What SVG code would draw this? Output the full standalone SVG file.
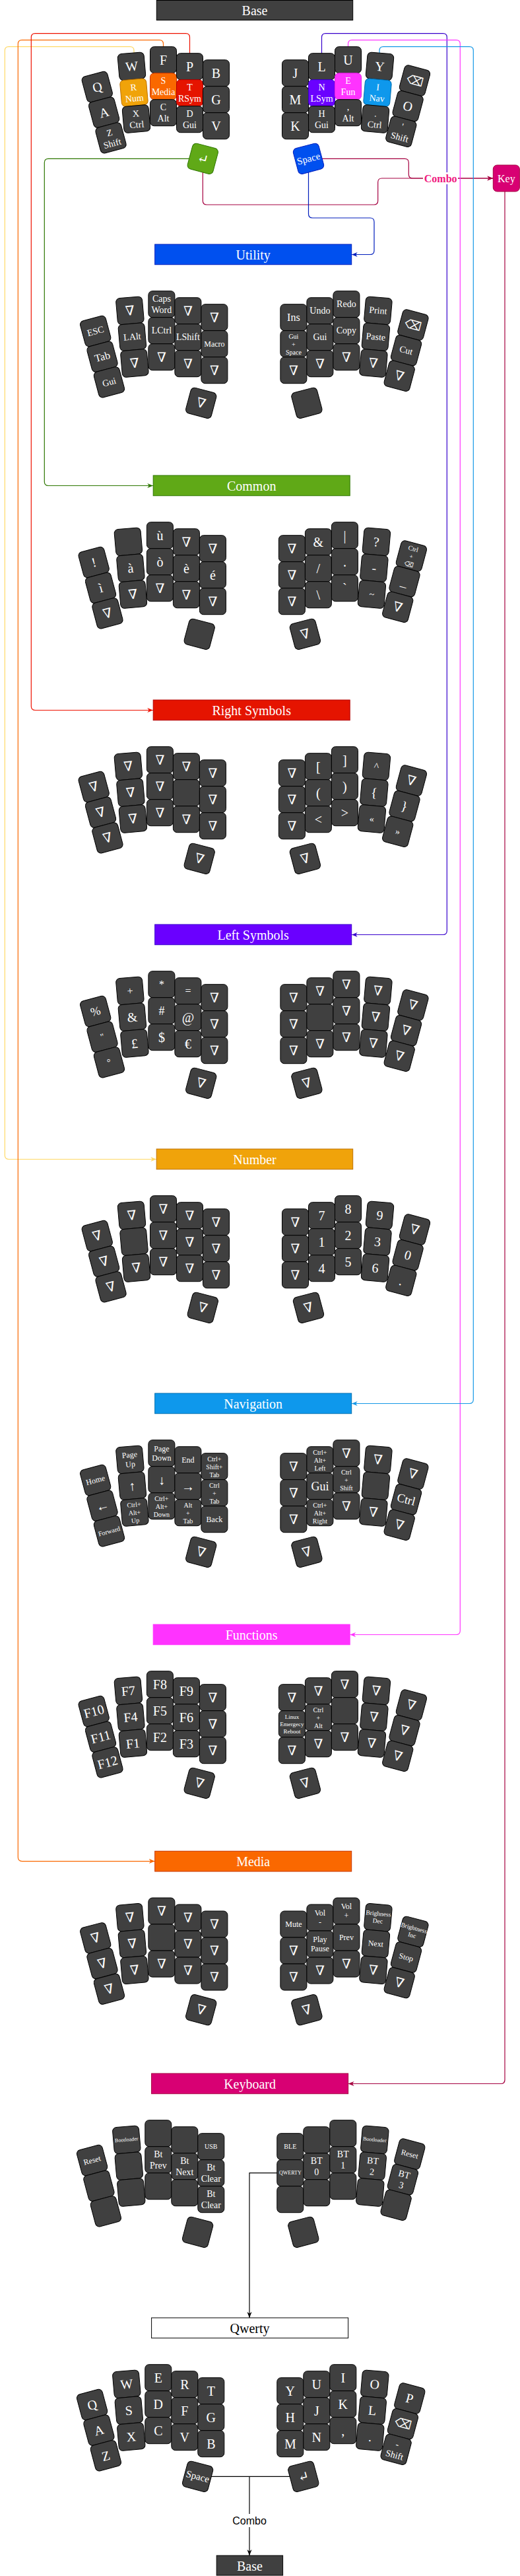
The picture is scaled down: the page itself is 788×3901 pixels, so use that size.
<svg xmlns="http://www.w3.org/2000/svg" xmlns:xlink="http://www.w3.org/1999/xlink" width="788" height="3901" viewBox="0 0 788 3901">
<style>
text{font-family:"Liberation Serif","DejaVu Serif",serif;text-anchor:middle;dominant-baseline:central;fill:#fff}
.a{font-size:20px}.b{font-size:14px}.c{font-size:12px}.d{font-size:10px}.e{font-size:8px}.f{font-size:16px}.g{font-size:18px}.sp{font-size:15px}.x9{font-size:9px}.x95{font-size:9.5px}
.k{fill:#404040;stroke:#000;stroke-width:1}
.ky{fill:#F0A30A;stroke:#BD7000}.ko{fill:#FA6800;stroke:#C73500}.kr{fill:#E51400;stroke:#B20000}
.kv{fill:#6A00FF;stroke:#3700CC}.km{fill:#FF33FF;stroke:#E020E0}.kc{fill:#0E98EC;stroke:#006EAF}
.kg{fill:#60A917;stroke:#2D7600}.kb{fill:#0050EF;stroke:#001DBC}
.bar text{font-size:20px}
#connectors path{fill:none;stroke-width:1.2}
</style>
<defs>
<rect id="kr" x="-20" y="-20" width="40" height="40" rx="6"/>
<marker id="m-y" viewBox="0 0 10 10" refX="10" refY="5" markerWidth="9" markerHeight="9" markerUnits="userSpaceOnUse" orient="auto"><path d="M0,1 L10,5 L0,9 L3,5 z" fill="#FFD966"/></marker>
<marker id="m-o" viewBox="0 0 10 10" refX="10" refY="5" markerWidth="9" markerHeight="9" markerUnits="userSpaceOnUse" orient="auto"><path d="M0,1 L10,5 L0,9 L3,5 z" fill="#FA6800"/></marker>
<marker id="m-r" viewBox="0 0 10 10" refX="10" refY="5" markerWidth="9" markerHeight="9" markerUnits="userSpaceOnUse" orient="auto"><path d="M0,1 L10,5 L0,9 L3,5 z" fill="#EE1100"/></marker>
<marker id="m-g" viewBox="0 0 10 10" refX="10" refY="5" markerWidth="9" markerHeight="9" markerUnits="userSpaceOnUse" orient="auto"><path d="M0,1 L10,5 L0,9 L3,5 z" fill="#2D7600"/></marker>
<marker id="m-k" viewBox="0 0 10 10" refX="10" refY="5" markerWidth="9" markerHeight="9" markerUnits="userSpaceOnUse" orient="auto"><path d="M0,1 L10,5 L0,9 L3,5 z" fill="#A50040"/></marker>
<marker id="m-v" viewBox="0 0 10 10" refX="10" refY="5" markerWidth="9" markerHeight="9" markerUnits="userSpaceOnUse" orient="auto"><path d="M0,1 L10,5 L0,9 L3,5 z" fill="#3700CC"/></marker>
<marker id="m-m" viewBox="0 0 10 10" refX="10" refY="5" markerWidth="9" markerHeight="9" markerUnits="userSpaceOnUse" orient="auto"><path d="M0,1 L10,5 L0,9 L3,5 z" fill="#FF33FF"/></marker>
<marker id="m-c" viewBox="0 0 10 10" refX="10" refY="5" markerWidth="9" markerHeight="9" markerUnits="userSpaceOnUse" orient="auto"><path d="M0,1 L10,5 L0,9 L3,5 z" fill="#1497E6"/></marker>
<marker id="m-b" viewBox="0 0 10 10" refX="10" refY="5" markerWidth="9" markerHeight="9" markerUnits="userSpaceOnUse" orient="auto"><path d="M0,1 L10,5 L0,9 L3,5 z" fill="#001DBC"/></marker>
<marker id="m-n" viewBox="0 0 10 10" refX="10" refY="5" markerWidth="9" markerHeight="9" markerUnits="userSpaceOnUse" orient="auto"><path d="M0,1 L10,5 L0,9 L3,5 z" fill="#000"/></marker>
</defs>
<rect width="788" height="3901" fill="#fff"/>

<g id="connectors">
<path d="M203 140 V76.7 Q203 70.7 197 70.7 H13.3 Q7.3 70.7 7.3 76.7 V1749.5 Q7.3 1755.5 13.3 1755.5 H237.2" stroke="#FFD966" marker-end="url(#m-y)"/>
<path d="M247.5 130.7 V66.7 Q247.5 60.7 241.5 60.7 H33.3 Q27.3 60.7 27.3 66.7 V2812.6 Q27.3 2818.6 33.3 2818.6 H234.7" stroke="#FA6800" marker-end="url(#m-o)"/>
<path d="M287.5 140.7 V56.7 Q287.5 50.7 281.5 50.7 H53.3 Q47.3 50.7 47.3 56.7 V1069.5 Q47.3 1075.5 53.3 1075.5 H232.2" stroke="#EE1100" marker-end="url(#m-r)"/>
<path d="M307.3 240.3 H73.3 Q67.3 240.3 67.3 246.3 V729.5 Q67.3 735.5 73.3 735.5 H232.2" stroke="#2D7600" marker-end="url(#m-g)"/>
<path d="M307.3 240.3 V304 Q307.3 310 313.3 310 H566.7 Q572.7 310 572.7 304 V276 Q572.7 270 578.7 270 H747.3" stroke="#A50040" marker-end="url(#m-k)"/>
<path d="M467.5 240.3 H613.3 Q619.3 240.3 619.3 246.3 V264 Q619.3 270 625.3 270 H747.3" stroke="#A50040" marker-end="url(#m-k)"/>
<path d="M765 290 V3149.5 Q765 3155.5 759 3155.5 H527.6" stroke="#A50040" marker-end="url(#m-k)"/>
<path d="M487.5 140.7 V56.7 Q487.5 50.7 493.5 50.7 H671.3 Q677.3 50.7 677.3 56.7 V1409.5 Q677.3 1415.5 671.3 1415.5 H532.7" stroke="#3700CC" marker-end="url(#m-v)"/>
<path d="M527.5 130.7 V66.7 Q527.5 60.7 533.5 60.7 H691.3 Q697.3 60.7 697.3 66.7 V2469.5 Q697.3 2475.5 691.3 2475.5 H530.2" stroke="#FF33FF" marker-end="url(#m-m)"/>
<path d="M575 140 V76.7 Q575 70.7 581 70.7 H711.3 Q717.3 70.7 717.3 76.7 V2119.5 Q717.3 2125.5 711.3 2125.5 H532.7" stroke="#1497E6" marker-end="url(#m-c)"/>
<path d="M467.5 240.3 V324 Q467.5 330 473.5 330 H561 Q567 330 567 336 V379.5 Q567 385.5 561 385.5 H532.7" stroke="#001DBC" marker-end="url(#m-b)"/>
<path d="M439.8 3290.7 H378 V3510" stroke="#000" marker-end="url(#m-n)"/>
<path d="M299.6 3750.3 H459.8" stroke="#000"/>
<path d="M378 3750.3 V3870" stroke="#000" marker-end="url(#m-n)"/>
<rect x="641" y="261" width="53" height="18" fill="#fff"/>
<text x="667.7" y="270" style="font-size:16px;font-weight:bold;fill:#F0197F">Combo</text>
<rect x="352" y="3807" width="52" height="20" fill="#fff"/>
<text x="378" y="3817.3" style="font-family:'Liberation Sans',Arial,sans-serif;font-size:16px;fill:#000">Combo</text>
</g>

<g id="key"><rect x="747.3" y="250" width="40" height="40" rx="6" fill="#D80073" stroke="#A50040"/><text x="767.3" y="270" class="f">Key</text></g>

<g class="bar">
<g id="bar-base"><rect x="237.3" y="0.5" width="297.4" height="30" fill="#404040" stroke="#000"/><text x="386" y="15.5">Base</text></g>
<g id="bar-utility"><rect x="234.7" y="370" width="298" height="30.7" fill="#0050EF" stroke="#001DBC"/><text x="383.7" y="385.5">Utility</text></g>
<g id="bar-common"><rect x="232.2" y="720" width="298" height="30.7" fill="#60A917" stroke="#2D7600"/><text x="381.2" y="735.5">Common</text></g>
<g id="bar-rsym"><rect x="232.2" y="1060" width="298" height="30.7" fill="#E51400" stroke="#B20000"/><text x="381.2" y="1075.5">Right Symbols</text></g>
<g id="bar-lsym"><rect x="234.7" y="1400" width="298" height="30.7" fill="#6A00FF" stroke="#3700CC"/><text x="383.7" y="1415.5">Left Symbols</text></g>
<g id="bar-number"><rect x="237.2" y="1740" width="297.5" height="30.7" fill="#F0A30A" stroke="#BD7000"/><text x="386" y="1755.5">Number</text></g>
<g id="bar-navigation"><rect x="234.7" y="2110" width="298" height="30.7" fill="#0E98EC" stroke="#006EAF"/><text x="383.7" y="2125.5">Navigation</text></g>
<g id="bar-functions"><rect x="232.2" y="2460" width="298" height="30.7" fill="#FF33FF" stroke="#FF33FF"/><text x="381.2" y="2475.5">Functions</text></g>
<g id="bar-media"><rect x="234.7" y="2803.3" width="298" height="30.7" fill="#FA6800" stroke="#C73500"/><text x="383.7" y="2818.6">Media</text></g>
<g id="bar-keyboard"><rect x="229.6" y="3140" width="298" height="30.7" fill="#D80073" stroke="#A50040"/><text x="378.6" y="3155.5">Keyboard</text></g>
<g id="bar-qwerty"><rect x="229.6" y="3510" width="298" height="30.7" fill="#fff" stroke="#000"/><text x="378.6" y="3525.5" style="fill:#000">Qwerty</text></g>
<g id="bar-base2"><rect x="328.2" y="3870" width="100.4" height="30" fill="#404040" stroke="#000"/><text x="378.4" y="3885.5">Base</text></g>
</g>

<g id="layer-base">
<g id="b-q" transform="translate(147.3 131.5) rotate(-15)"><use href="#kr" class="k"/><text class="a">Q</text></g>
<g id="b-a" transform="translate(157.6 170.1) rotate(-15)"><use href="#kr" class="k"/><text class="a">A</text></g>
<g id="b-z" transform="translate(168 208.8) rotate(-15)"><use href="#kr" class="k"/><text class="b"><tspan x="0" y="-8.4">Z</tspan><tspan x="0" y="8.4">Shift</tspan></text></g>
<g id="b-w" transform="translate(199.5 100.3) rotate(-5)"><use href="#kr" class="k"/><text class="a">W</text></g>
<g id="b-r" transform="translate(203 140.1) rotate(-5)"><use href="#kr" class="ky"/><text class="b"><tspan x="0" y="-8.4">R</tspan><tspan x="0" y="8.4">Num</tspan></text></g>
<g id="b-x" transform="translate(206.5 180) rotate(-5)"><use href="#kr" class="k"/><text class="b"><tspan x="0" y="-8.4">X</tspan><tspan x="0" y="8.4">Ctrl</tspan></text></g>
<g id="b-f" transform="translate(247.5 90.7)"><use href="#kr" class="k"/><text class="a">F</text></g>
<g id="b-s" transform="translate(247.5 130.7)"><use href="#kr" class="ko"/><text class="b"><tspan x="0" y="-8.4">S</tspan><tspan x="0" y="8.4">Media</tspan></text></g>
<g id="b-c" transform="translate(247.5 170.7)"><use href="#kr" class="k"/><text class="b"><tspan x="0" y="-8.4">C</tspan><tspan x="0" y="8.4">Alt</tspan></text></g>
<g id="b-p" transform="translate(287.5 100.7)"><use href="#kr" class="k"/><text class="a">P</text></g>
<g id="b-t" transform="translate(287.5 140.7)"><use href="#kr" class="kr"/><text class="b"><tspan x="0" y="-8.4">T</tspan><tspan x="0" y="8.4">RSym</tspan></text></g>
<g id="b-d" transform="translate(287.5 180.7)"><use href="#kr" class="k"/><text class="b"><tspan x="0" y="-8.4">D</tspan><tspan x="0" y="8.4">Gui</tspan></text></g>
<g id="b-b" transform="translate(327.5 110.7)"><use href="#kr" class="k"/><text class="a">B</text></g>
<g id="b-g" transform="translate(327.5 150.7)"><use href="#kr" class="k"/><text class="a">G</text></g>
<g id="b-v" transform="translate(327.5 190.7)"><use href="#kr" class="k"/><text class="a">V</text></g>
<g id="b-enter" transform="translate(307.3 240.3) rotate(15)"><use href="#kr" class="kg"/><text class="a">↵</text></g>
<g id="b-j" transform="translate(447.5 110.7)"><use href="#kr" class="k"/><text class="a">J</text></g>
<g id="b-m" transform="translate(447.5 150.7)"><use href="#kr" class="k"/><text class="a">M</text></g>
<g id="b-k" transform="translate(447.5 190.7)"><use href="#kr" class="k"/><text class="a">K</text></g>
<g id="b-l" transform="translate(487.5 100.7)"><use href="#kr" class="k"/><text class="a">L</text></g>
<g id="b-n" transform="translate(487.5 140.7)"><use href="#kr" class="kv"/><text class="b"><tspan x="0" y="-8.4">N</tspan><tspan x="0" y="8.4">LSym</tspan></text></g>
<g id="b-h" transform="translate(487.5 180.7)"><use href="#kr" class="k"/><text class="b"><tspan x="0" y="-8.4">H</tspan><tspan x="0" y="8.4">Gui</tspan></text></g>
<g id="b-u" transform="translate(527.5 90.7)"><use href="#kr" class="k"/><text class="a">U</text></g>
<g id="b-e" transform="translate(527.5 130.7)"><use href="#kr" class="km"/><text class="b"><tspan x="0" y="-8.4">E</tspan><tspan x="0" y="8.4">Fun</tspan></text></g>
<g id="b-comma" transform="translate(527.5 170.7)"><use href="#kr" class="k"/><text class="b"><tspan x="0" y="-8.4">,</tspan><tspan x="0" y="8.4">Alt</tspan></text></g>
<g id="b-y" transform="translate(575.5 100.3) rotate(5)"><use href="#kr" class="k"/><text class="a">Y</text></g>
<g id="b-i" transform="translate(572 140.1) rotate(5)"><use href="#kr" class="kc"/><text class="b"><tspan x="0" y="-8.4">I</tspan><tspan x="0" y="8.4">Nav</tspan></text></g>
<g id="b-dot" transform="translate(568.5 180) rotate(5)"><use href="#kr" class="k"/><text class="b"><tspan x="0" y="-8.4">.</tspan><tspan x="0" y="8.4">Ctrl</tspan></text></g>
<g id="b-bs" transform="translate(628.5 122) rotate(15)"><use href="#kr" class="k"/><text class="g">⌫</text></g>
<g id="b-o" transform="translate(618.1 160.6) rotate(15)"><use href="#kr" class="k"/><text class="a">O</text></g>
<g id="b-quote" transform="translate(607.8 199.3) rotate(15)"><use href="#kr" class="k"/><text class="b"><tspan x="0" y="-8.4">'</tspan><tspan x="0" y="8.4">Shift</tspan></text></g>
<g id="b-space" transform="translate(467.5 240.3) rotate(-15)"><use href="#kr" class="kb"/><text class="sp">Space</text></g>
</g>

<g id="layer-utility" transform="translate(-2.6 370)">
<g id="u-esc" transform="translate(147.3 131.5) rotate(-15)"><use href="#kr" class="k"/><text class="b">ESC</text></g>
<g id="u-tab" transform="translate(157.6 170.1) rotate(-15)"><use href="#kr" class="k"/><text class="f">Tab</text></g>
<g id="u-gui" transform="translate(168 208.8) rotate(-15)"><use href="#kr" class="k"/><text class="b">Gui</text></g>
<g id="u-lr0" transform="translate(199.5 100.3) rotate(-5)"><use href="#kr" class="k"/><text class="a">∇</text></g>
<g id="u-lalt" transform="translate(203 140.1) rotate(-5)"><use href="#kr" class="k"/><text class="b">LAlt</text></g>
<g id="u-lr2" transform="translate(206.5 180) rotate(-5)"><use href="#kr" class="k"/><text class="a">∇</text></g>
<g id="u-caps" transform="translate(247.5 90.7)"><use href="#kr" class="k"/><text class="b"><tspan x="0" y="-8.4">Caps</tspan><tspan x="0" y="8.4">Word</tspan></text></g>
<g id="u-lctrl" transform="translate(247.5 130.7)"><use href="#kr" class="k"/><text class="b">LCtrl</text></g>
<g id="u-lm2" transform="translate(247.5 170.7)"><use href="#kr" class="k"/><text class="a">∇</text></g>
<g id="u-li0" transform="translate(287.5 100.7)"><use href="#kr" class="k"/><text class="a">∇</text></g>
<g id="u-lshift" transform="translate(287.5 140.7)"><use href="#kr" class="k"/><text class="b">LShift</text></g>
<g id="u-li2" transform="translate(287.5 180.7)"><use href="#kr" class="k"/><text class="a">∇</text></g>
<g id="u-ln0" transform="translate(327.5 110.7)"><use href="#kr" class="k"/><text class="a">∇</text></g>
<g id="u-macro" transform="translate(327.5 150.7)"><use href="#kr" class="k"/><text class="c">Macro</text></g>
<g id="u-ln2" transform="translate(327.5 190.7)"><use href="#kr" class="k"/><text class="a">∇</text></g>
<g id="u-lt" transform="translate(307.3 240.3) rotate(15)"><use href="#kr" class="k"/><text class="a">∇</text></g>
<g id="u-ins" transform="translate(447.5 110.7)"><use href="#kr" class="k"/><text class="f">Ins</text></g>
<g id="u-guispace" transform="translate(447.5 150.7)"><use href="#kr" class="k"/><text class="d"><tspan x="0" y="-12">Gui</tspan><tspan x="0" y="0">+</tspan><tspan x="0" y="12">Space</tspan></text></g>
<g id="u-rn2" transform="translate(447.5 190.7)"><use href="#kr" class="k"/><text class="a">∇</text></g>
<g id="u-undo" transform="translate(487.5 100.7)"><use href="#kr" class="k"/><text class="b">Undo</text></g>
<g id="u-gui2" transform="translate(487.5 140.7)"><use href="#kr" class="k"/><text class="b">Gui</text></g>
<g id="u-ri2" transform="translate(487.5 180.7)"><use href="#kr" class="k"/><text class="a">∇</text></g>
<g id="u-redo" transform="translate(527.5 90.7)"><use href="#kr" class="k"/><text class="b">Redo</text></g>
<g id="u-copy" transform="translate(527.5 130.7)"><use href="#kr" class="k"/><text class="b">Copy</text></g>
<g id="u-rm2" transform="translate(527.5 170.7)"><use href="#kr" class="k"/><text class="a">∇</text></g>
<g id="u-print" transform="translate(575.5 100.3) rotate(5)"><use href="#kr" class="k"/><text class="b">Print</text></g>
<g id="u-paste" transform="translate(572 140.1) rotate(5)"><use href="#kr" class="k"/><text class="b">Paste</text></g>
<g id="u-rr2" transform="translate(568.5 180) rotate(5)"><use href="#kr" class="k"/><text class="a">∇</text></g>
<g id="u-bs" transform="translate(628.5 122) rotate(15)"><use href="#kr" class="k"/><text class="g">⌫</text></g>
<g id="u-cut" transform="translate(618.1 160.6) rotate(15)"><use href="#kr" class="k"/><text class="b">Cut</text></g>
<g id="u-rp2" transform="translate(607.8 199.3) rotate(15)"><use href="#kr" class="k"/><text class="a">∇</text></g>
<g id="u-rt" transform="translate(467.5 240.3) rotate(-15)"><use href="#kr" class="k"/></g>
</g>

<g id="layer-common" transform="translate(-5.1 720)">
<g id="c-excl" transform="translate(147.3 131.5) rotate(-15)"><use href="#kr" class="k"/><text class="a">!</text></g>
<g id="c-igr" transform="translate(157.6 170.1) rotate(-15)"><use href="#kr" class="k"/><text class="a">ì</text></g>
<g id="c-lp2" transform="translate(168 208.8) rotate(-15)"><use href="#kr" class="k"/><text class="a">∇</text></g>
<g id="c-lr0" transform="translate(199.5 100.3) rotate(-5)"><use href="#kr" class="k"/></g>
<g id="c-agr" transform="translate(203 140.1) rotate(-5)"><use href="#kr" class="k"/><text class="a">à</text></g>
<g id="c-lr2" transform="translate(206.5 180) rotate(-5)"><use href="#kr" class="k"/><text class="a">∇</text></g>
<g id="c-ugr" transform="translate(247.5 90.7)"><use href="#kr" class="k"/><text class="a">ù</text></g>
<g id="c-ogr" transform="translate(247.5 130.7)"><use href="#kr" class="k"/><text class="a">ò</text></g>
<g id="c-lm2" transform="translate(247.5 170.7)"><use href="#kr" class="k"/><text class="a">∇</text></g>
<g id="c-li0" transform="translate(287.5 100.7)"><use href="#kr" class="k"/><text class="a">∇</text></g>
<g id="c-egr" transform="translate(287.5 140.7)"><use href="#kr" class="k"/><text class="a">è</text></g>
<g id="c-li2" transform="translate(287.5 180.7)"><use href="#kr" class="k"/><text class="a">∇</text></g>
<g id="c-ln0" transform="translate(327.5 110.7)"><use href="#kr" class="k"/><text class="a">∇</text></g>
<g id="c-eac" transform="translate(327.5 150.7)"><use href="#kr" class="k"/><text class="a">é</text></g>
<g id="c-ln2" transform="translate(327.5 190.7)"><use href="#kr" class="k"/><text class="a">∇</text></g>
<g id="c-lt" transform="translate(307.3 240.3) rotate(15)"><use href="#kr" class="k"/></g>
<g id="c-rn0" transform="translate(447.5 110.7)"><use href="#kr" class="k"/><text class="a">∇</text></g>
<g id="c-rn1" transform="translate(447.5 150.7)"><use href="#kr" class="k"/><text class="a">∇</text></g>
<g id="c-rn2" transform="translate(447.5 190.7)"><use href="#kr" class="k"/><text class="a">∇</text></g>
<g id="c-amp" transform="translate(487.5 100.7)"><use href="#kr" class="k"/><text class="a">&amp;</text></g>
<g id="c-slash" transform="translate(487.5 140.7)"><use href="#kr" class="k"/><text class="a">/</text></g>
<g id="c-bslash" transform="translate(487.5 180.7)"><use href="#kr" class="k"/><text class="a">\</text></g>
<g id="c-pipe" transform="translate(527.5 90.7)"><use href="#kr" class="k"/><text class="a">|</text></g>
<g id="c-dot" transform="translate(527.5 130.7)"><use href="#kr" class="k"/><text class="a">.</text></g>
<g id="c-grave" transform="translate(527.5 170.7)"><use href="#kr" class="k"/><text class="a">`</text></g>
<g id="c-qm" transform="translate(575.5 100.3) rotate(5)"><use href="#kr" class="k"/><text class="a">?</text></g>
<g id="c-minus" transform="translate(572 140.1) rotate(5)"><use href="#kr" class="k"/><text class="a">-</text></g>
<g id="c-tilde" transform="translate(568.5 180) rotate(5)"><use href="#kr" class="k"/><text class="b">~</text></g>
<g id="c-ctrlbs" transform="translate(628.5 122) rotate(15)"><use href="#kr" class="k"/><text class="d"><tspan x="0" y="-12">Ctrl</tspan><tspan x="0" y="0">+</tspan><tspan x="0" y="12">⌫</tspan></text></g>
<g id="c-under" transform="translate(618.1 160.6) rotate(15)"><use href="#kr" class="k"/><text class="a">_</text></g>
<g id="c-rp2" transform="translate(607.8 199.3) rotate(15)"><use href="#kr" class="k"/><text class="a">∇</text></g>
<g id="c-rt" transform="translate(467.5 240.3) rotate(-15)"><use href="#kr" class="k"/><text class="a">∇</text></g>
</g>

<g id="layer-rsym" transform="translate(-5.1 1060)">
<g id="rs-lp0" transform="translate(147.3 131.5) rotate(-15)"><use href="#kr" class="k"/><text class="a">∇</text></g>
<g id="rs-lp1" transform="translate(157.6 170.1) rotate(-15)"><use href="#kr" class="k"/><text class="a">∇</text></g>
<g id="rs-lp2" transform="translate(168 208.8) rotate(-15)"><use href="#kr" class="k"/><text class="a">∇</text></g>
<g id="rs-lr0" transform="translate(199.5 100.3) rotate(-5)"><use href="#kr" class="k"/><text class="a">∇</text></g>
<g id="rs-lr1" transform="translate(203 140.1) rotate(-5)"><use href="#kr" class="k"/><text class="a">∇</text></g>
<g id="rs-lr2" transform="translate(206.5 180) rotate(-5)"><use href="#kr" class="k"/><text class="a">∇</text></g>
<g id="rs-lm0" transform="translate(247.5 90.7)"><use href="#kr" class="k"/><text class="a">∇</text></g>
<g id="rs-lm1" transform="translate(247.5 130.7)"><use href="#kr" class="k"/><text class="a">∇</text></g>
<g id="rs-lm2" transform="translate(247.5 170.7)"><use href="#kr" class="k"/><text class="a">∇</text></g>
<g id="rs-li0" transform="translate(287.5 100.7)"><use href="#kr" class="k"/><text class="a">∇</text></g>
<g id="rs-li1" transform="translate(287.5 140.7)"><use href="#kr" class="k"/></g>
<g id="rs-li2" transform="translate(287.5 180.7)"><use href="#kr" class="k"/><text class="a">∇</text></g>
<g id="rs-ln0" transform="translate(327.5 110.7)"><use href="#kr" class="k"/><text class="a">∇</text></g>
<g id="rs-ln1" transform="translate(327.5 150.7)"><use href="#kr" class="k"/><text class="a">∇</text></g>
<g id="rs-ln2" transform="translate(327.5 190.7)"><use href="#kr" class="k"/><text class="a">∇</text></g>
<g id="rs-lt" transform="translate(307.3 240.3) rotate(15)"><use href="#kr" class="k"/><text class="a">∇</text></g>
<g id="rs-rn0" transform="translate(447.5 110.7)"><use href="#kr" class="k"/><text class="a">∇</text></g>
<g id="rs-rn1" transform="translate(447.5 150.7)"><use href="#kr" class="k"/><text class="a">∇</text></g>
<g id="rs-rn2" transform="translate(447.5 190.7)"><use href="#kr" class="k"/><text class="a">∇</text></g>
<g id="rs-lbr" transform="translate(487.5 100.7)"><use href="#kr" class="k"/><text class="a">[</text></g>
<g id="rs-lpar" transform="translate(487.5 140.7)"><use href="#kr" class="k"/><text class="a">(</text></g>
<g id="rs-lt2" transform="translate(487.5 180.7)"><use href="#kr" class="k"/><text class="a">&lt;</text></g>
<g id="rs-rbr" transform="translate(527.5 90.7)"><use href="#kr" class="k"/><text class="a">]</text></g>
<g id="rs-rpar" transform="translate(527.5 130.7)"><use href="#kr" class="k"/><text class="a">)</text></g>
<g id="rs-gt" transform="translate(527.5 170.7)"><use href="#kr" class="k"/><text class="a">&gt;</text></g>
<g id="rs-caret" transform="translate(575.5 100.3) rotate(5)"><use href="#kr" class="k"/><text class="f">^</text></g>
<g id="rs-lbrace" transform="translate(572 140.1) rotate(5)"><use href="#kr" class="k"/><text class="a">{</text></g>
<g id="rs-laquo" transform="translate(568.5 180) rotate(5)"><use href="#kr" class="k"/><text class="b">«</text></g>
<g id="rs-rp0" transform="translate(628.5 122) rotate(15)"><use href="#kr" class="k"/><text class="a">∇</text></g>
<g id="rs-rbrace" transform="translate(618.1 160.6) rotate(15)"><use href="#kr" class="k"/><text class="a">}</text></g>
<g id="rs-raquo" transform="translate(607.8 199.3) rotate(15)"><use href="#kr" class="k"/><text class="b">»</text></g>
<g id="rs-rt" transform="translate(467.5 240.3) rotate(-15)"><use href="#kr" class="k"/><text class="a">∇</text></g>
</g>

<g id="layer-lsym" transform="translate(-2.6 1400)">
<g id="ls-pct" transform="translate(147.3 131.5) rotate(-15)"><use href="#kr" class="k"/><text class="g">%</text></g>
<g id="ls-quot" transform="translate(157.6 170.1) rotate(-15)"><use href="#kr" class="k"/><text class="b">"</text></g>
<g id="ls-deg" transform="translate(168 208.8) rotate(-15)"><use href="#kr" class="k"/><text class="b">°</text></g>
<g id="ls-plus" transform="translate(199.5 100.3) rotate(-5)"><use href="#kr" class="k"/><text class="f">+</text></g>
<g id="ls-amp" transform="translate(203 140.1) rotate(-5)"><use href="#kr" class="k"/><text class="a">&amp;</text></g>
<g id="ls-pound" transform="translate(206.5 180) rotate(-5)"><use href="#kr" class="k"/><text class="a">£</text></g>
<g id="ls-star" transform="translate(247.5 90.7)"><use href="#kr" class="k"/><text class="f">*</text></g>
<g id="ls-hash" transform="translate(247.5 130.7)"><use href="#kr" class="k"/><text class="g">#</text></g>
<g id="ls-dollar" transform="translate(247.5 170.7)"><use href="#kr" class="k"/><text class="a">$</text></g>
<g id="ls-eq" transform="translate(287.5 100.7)"><use href="#kr" class="k"/><text class="f">=</text></g>
<g id="ls-at" transform="translate(287.5 140.7)"><use href="#kr" class="k"/><text class="a">@</text></g>
<g id="ls-euro" transform="translate(287.5 180.7)"><use href="#kr" class="k"/><text class="a">€</text></g>
<g id="ls-ln0" transform="translate(327.5 110.7)"><use href="#kr" class="k"/><text class="a">∇</text></g>
<g id="ls-ln1" transform="translate(327.5 150.7)"><use href="#kr" class="k"/><text class="a">∇</text></g>
<g id="ls-ln2" transform="translate(327.5 190.7)"><use href="#kr" class="k"/><text class="a">∇</text></g>
<g id="ls-lt" transform="translate(307.3 240.3) rotate(15)"><use href="#kr" class="k"/><text class="a">∇</text></g>
<g id="ls-rn0" transform="translate(447.5 110.7)"><use href="#kr" class="k"/><text class="a">∇</text></g>
<g id="ls-rn1" transform="translate(447.5 150.7)"><use href="#kr" class="k"/><text class="a">∇</text></g>
<g id="ls-rn2" transform="translate(447.5 190.7)"><use href="#kr" class="k"/><text class="a">∇</text></g>
<g id="ls-ri0" transform="translate(487.5 100.7)"><use href="#kr" class="k"/><text class="a">∇</text></g>
<g id="ls-ri1" transform="translate(487.5 140.7)"><use href="#kr" class="k"/></g>
<g id="ls-ri2" transform="translate(487.5 180.7)"><use href="#kr" class="k"/><text class="a">∇</text></g>
<g id="ls-rm0" transform="translate(527.5 90.7)"><use href="#kr" class="k"/><text class="a">∇</text></g>
<g id="ls-rm1" transform="translate(527.5 130.7)"><use href="#kr" class="k"/><text class="a">∇</text></g>
<g id="ls-rm2" transform="translate(527.5 170.7)"><use href="#kr" class="k"/><text class="a">∇</text></g>
<g id="ls-rr0" transform="translate(575.5 100.3) rotate(5)"><use href="#kr" class="k"/><text class="a">∇</text></g>
<g id="ls-rr1" transform="translate(572 140.1) rotate(5)"><use href="#kr" class="k"/><text class="a">∇</text></g>
<g id="ls-rr2" transform="translate(568.5 180) rotate(5)"><use href="#kr" class="k"/><text class="a">∇</text></g>
<g id="ls-rp0" transform="translate(628.5 122) rotate(15)"><use href="#kr" class="k"/><text class="a">∇</text></g>
<g id="ls-rp1" transform="translate(618.1 160.6) rotate(15)"><use href="#kr" class="k"/><text class="a">∇</text></g>
<g id="ls-rp2" transform="translate(607.8 199.3) rotate(15)"><use href="#kr" class="k"/><text class="a">∇</text></g>
<g id="ls-rt" transform="translate(467.5 240.3) rotate(-15)"><use href="#kr" class="k"/><text class="a">∇</text></g>
</g>

<g id="layer-number" transform="translate(0 1740)">
<g id="n-lp0" transform="translate(147.3 131.5) rotate(-15)"><use href="#kr" class="k"/><text class="a">∇</text></g>
<g id="n-lp1" transform="translate(157.6 170.1) rotate(-15)"><use href="#kr" class="k"/><text class="a">∇</text></g>
<g id="n-lp2" transform="translate(168 208.8) rotate(-15)"><use href="#kr" class="k"/><text class="a">∇</text></g>
<g id="n-lr0" transform="translate(199.5 100.3) rotate(-5)"><use href="#kr" class="k"/><text class="a">∇</text></g>
<g id="n-lr1" transform="translate(203 140.1) rotate(-5)"><use href="#kr" class="k"/></g>
<g id="n-lr2" transform="translate(206.5 180) rotate(-5)"><use href="#kr" class="k"/><text class="a">∇</text></g>
<g id="n-lm0" transform="translate(247.5 90.7)"><use href="#kr" class="k"/><text class="a">∇</text></g>
<g id="n-lm1" transform="translate(247.5 130.7)"><use href="#kr" class="k"/><text class="a">∇</text></g>
<g id="n-lm2" transform="translate(247.5 170.7)"><use href="#kr" class="k"/><text class="a">∇</text></g>
<g id="n-li0" transform="translate(287.5 100.7)"><use href="#kr" class="k"/><text class="a">∇</text></g>
<g id="n-li1" transform="translate(287.5 140.7)"><use href="#kr" class="k"/><text class="a">∇</text></g>
<g id="n-li2" transform="translate(287.5 180.7)"><use href="#kr" class="k"/><text class="a">∇</text></g>
<g id="n-ln0" transform="translate(327.5 110.7)"><use href="#kr" class="k"/><text class="a">∇</text></g>
<g id="n-ln1" transform="translate(327.5 150.7)"><use href="#kr" class="k"/><text class="a">∇</text></g>
<g id="n-ln2" transform="translate(327.5 190.7)"><use href="#kr" class="k"/><text class="a">∇</text></g>
<g id="n-lt" transform="translate(307.3 240.3) rotate(15)"><use href="#kr" class="k"/><text class="a">∇</text></g>
<g id="n-rn0" transform="translate(447.5 110.7)"><use href="#kr" class="k"/><text class="a">∇</text></g>
<g id="n-rn1" transform="translate(447.5 150.7)"><use href="#kr" class="k"/><text class="a">∇</text></g>
<g id="n-rn2" transform="translate(447.5 190.7)"><use href="#kr" class="k"/><text class="a">∇</text></g>
<g id="n-7" transform="translate(487.5 100.7)"><use href="#kr" class="k"/><text class="a">7</text></g>
<g id="n-1" transform="translate(487.5 140.7)"><use href="#kr" class="k"/><text class="a">1</text></g>
<g id="n-4" transform="translate(487.5 180.7)"><use href="#kr" class="k"/><text class="a">4</text></g>
<g id="n-8" transform="translate(527.5 90.7)"><use href="#kr" class="k"/><text class="a">8</text></g>
<g id="n-2" transform="translate(527.5 130.7)"><use href="#kr" class="k"/><text class="a">2</text></g>
<g id="n-5" transform="translate(527.5 170.7)"><use href="#kr" class="k"/><text class="a">5</text></g>
<g id="n-9" transform="translate(575.5 100.3) rotate(5)"><use href="#kr" class="k"/><text class="a">9</text></g>
<g id="n-3" transform="translate(572 140.1) rotate(5)"><use href="#kr" class="k"/><text class="a">3</text></g>
<g id="n-6" transform="translate(568.5 180) rotate(5)"><use href="#kr" class="k"/><text class="a">6</text></g>
<g id="n-rp0" transform="translate(628.5 122) rotate(15)"><use href="#kr" class="k"/><text class="a">∇</text></g>
<g id="n-0" transform="translate(618.1 160.6) rotate(15)"><use href="#kr" class="k"/><text class="a">0</text></g>
<g id="n-dot" transform="translate(607.8 199.3) rotate(15)"><use href="#kr" class="k"/><text class="a">.</text></g>
<g id="n-rt" transform="translate(467.5 240.3) rotate(-15)"><use href="#kr" class="k"/><text class="a">∇</text></g>
</g>

<g id="layer-navigation" transform="translate(-2.6 2110)">
<g id="nv-home" transform="translate(147.3 131.5) rotate(-15)"><use href="#kr" class="k"/><text class="c">Home</text></g>
<g id="nv-left" transform="translate(157.6 170.1) rotate(-15)"><use href="#kr" class="k"/><text class="a">←</text></g>
<g id="nv-forward" transform="translate(168 208.8) rotate(-15)"><use href="#kr" class="k"/><text class="d">Forward</text></g>
<g id="nv-pgup" transform="translate(199.5 100.3) rotate(-5)"><use href="#kr" class="k"/><text class="c"><tspan x="0" y="-7.2">Page</tspan><tspan x="0" y="7.2">Up</tspan></text></g>
<g id="nv-up" transform="translate(203 140.1) rotate(-5)"><use href="#kr" class="k"/><text class="a">↑</text></g>
<g id="nv-cau" transform="translate(206.5 180) rotate(-5)"><use href="#kr" class="k"/><text class="d"><tspan x="0" y="-12">Ctrl+</tspan><tspan x="0" y="0">Alt+</tspan><tspan x="0" y="12">Up</tspan></text></g>
<g id="nv-pgdn" transform="translate(247.5 90.7)"><use href="#kr" class="k"/><text class="c"><tspan x="0" y="-7.2">Page</tspan><tspan x="0" y="7.2">Down</tspan></text></g>
<g id="nv-down" transform="translate(247.5 130.7)"><use href="#kr" class="k"/><text class="a">↓</text></g>
<g id="nv-cad" transform="translate(247.5 170.7)"><use href="#kr" class="k"/><text class="d"><tspan x="0" y="-12">Ctrl+</tspan><tspan x="0" y="0">Alt+</tspan><tspan x="0" y="12">Down</tspan></text></g>
<g id="nv-end" transform="translate(287.5 100.7)"><use href="#kr" class="k"/><text class="c">End</text></g>
<g id="nv-right" transform="translate(287.5 140.7)"><use href="#kr" class="k"/><text class="a">→</text></g>
<g id="nv-alttab" transform="translate(287.5 180.7)"><use href="#kr" class="k"/><text class="d"><tspan x="0" y="-12">Alt</tspan><tspan x="0" y="0">+</tspan><tspan x="0" y="12">Tab</tspan></text></g>
<g id="nv-cst" transform="translate(327.5 110.7)"><use href="#kr" class="k"/><text class="d"><tspan x="0" y="-12">Ctrl+</tspan><tspan x="0" y="0">Shift+</tspan><tspan x="0" y="12">Tab</tspan></text></g>
<g id="nv-ctab" transform="translate(327.5 150.7)"><use href="#kr" class="k"/><text class="d"><tspan x="0" y="-12">Ctrl</tspan><tspan x="0" y="0">+</tspan><tspan x="0" y="12">Tab</tspan></text></g>
<g id="nv-back" transform="translate(327.5 190.7)"><use href="#kr" class="k"/><text class="c">Back</text></g>
<g id="nv-lt" transform="translate(307.3 240.3) rotate(15)"><use href="#kr" class="k"/><text class="a">∇</text></g>
<g id="nv-rn0" transform="translate(447.5 110.7)"><use href="#kr" class="k"/><text class="a">∇</text></g>
<g id="nv-rn1" transform="translate(447.5 150.7)"><use href="#kr" class="k"/><text class="a">∇</text></g>
<g id="nv-rn2" transform="translate(447.5 190.7)"><use href="#kr" class="k"/><text class="a">∇</text></g>
<g id="nv-cal" transform="translate(487.5 100.7)"><use href="#kr" class="k"/><text class="d"><tspan x="0" y="-12">Ctrl+</tspan><tspan x="0" y="0">Alt+</tspan><tspan x="0" y="12">Left</tspan></text></g>
<g id="nv-gui" transform="translate(487.5 140.7)"><use href="#kr" class="k"/><text class="g">Gui</text></g>
<g id="nv-car" transform="translate(487.5 180.7)"><use href="#kr" class="k"/><text class="d"><tspan x="0" y="-12">Ctrl+</tspan><tspan x="0" y="0">Alt+</tspan><tspan x="0" y="12">Right</tspan></text></g>
<g id="nv-rm0" transform="translate(527.5 90.7)"><use href="#kr" class="k"/><text class="a">∇</text></g>
<g id="nv-cshift" transform="translate(527.5 130.7)"><use href="#kr" class="k"/><text class="d"><tspan x="0" y="-12">Ctrl</tspan><tspan x="0" y="0">+</tspan><tspan x="0" y="12">Shift</tspan></text></g>
<g id="nv-rm2" transform="translate(527.5 170.7)"><use href="#kr" class="k"/><text class="a">∇</text></g>
<g id="nv-rr0" transform="translate(575.5 100.3) rotate(5)"><use href="#kr" class="k"/><text class="a">∇</text></g>
<g id="nv-rr1" transform="translate(572 140.1) rotate(5)"><use href="#kr" class="k"/></g>
<g id="nv-rr2" transform="translate(568.5 180) rotate(5)"><use href="#kr" class="k"/><text class="a">∇</text></g>
<g id="nv-rp0" transform="translate(628.5 122) rotate(15)"><use href="#kr" class="k"/><text class="a">∇</text></g>
<g id="nv-ctrl" transform="translate(618.1 160.6) rotate(15)"><use href="#kr" class="k"/><text class="g">Ctrl</text></g>
<g id="nv-rp2" transform="translate(607.8 199.3) rotate(15)"><use href="#kr" class="k"/><text class="a">∇</text></g>
<g id="nv-rt" transform="translate(467.5 240.3) rotate(-15)"><use href="#kr" class="k"/><text class="a">∇</text></g>
</g>

<g id="layer-functions" transform="translate(-5.1 2460)">
<g id="f-f10" transform="translate(147.3 131.5) rotate(-15)"><use href="#kr" class="k"/><text class="a">F10</text></g>
<g id="f-f11" transform="translate(157.6 170.1) rotate(-15)"><use href="#kr" class="k"/><text class="a">F11</text></g>
<g id="f-f12" transform="translate(168 208.8) rotate(-15)"><use href="#kr" class="k"/><text class="a">F12</text></g>
<g id="f-f7" transform="translate(199.5 100.3) rotate(-5)"><use href="#kr" class="k"/><text class="a">F7</text></g>
<g id="f-f4" transform="translate(203 140.1) rotate(-5)"><use href="#kr" class="k"/><text class="a">F4</text></g>
<g id="f-f1" transform="translate(206.5 180) rotate(-5)"><use href="#kr" class="k"/><text class="a">F1</text></g>
<g id="f-f8" transform="translate(247.5 90.7)"><use href="#kr" class="k"/><text class="a">F8</text></g>
<g id="f-f5" transform="translate(247.5 130.7)"><use href="#kr" class="k"/><text class="a">F5</text></g>
<g id="f-f2" transform="translate(247.5 170.7)"><use href="#kr" class="k"/><text class="a">F2</text></g>
<g id="f-f9" transform="translate(287.5 100.7)"><use href="#kr" class="k"/><text class="a">F9</text></g>
<g id="f-f6" transform="translate(287.5 140.7)"><use href="#kr" class="k"/><text class="a">F6</text></g>
<g id="f-f3" transform="translate(287.5 180.7)"><use href="#kr" class="k"/><text class="a">F3</text></g>
<g id="f-ln0" transform="translate(327.5 110.7)"><use href="#kr" class="k"/><text class="a">∇</text></g>
<g id="f-ln1" transform="translate(327.5 150.7)"><use href="#kr" class="k"/><text class="a">∇</text></g>
<g id="f-ln2" transform="translate(327.5 190.7)"><use href="#kr" class="k"/><text class="a">∇</text></g>
<g id="f-lt" transform="translate(307.3 240.3) rotate(15)"><use href="#kr" class="k"/><text class="a">∇</text></g>
<g id="f-rn0" transform="translate(447.5 110.7)"><use href="#kr" class="k"/><text class="a">∇</text></g>
<g id="f-reboot" transform="translate(447.5 150.7)"><use href="#kr" class="k"/><text class="x9"><tspan x="0" y="-11">Linux</tspan><tspan x="0" y="0">Emergecy</tspan><tspan x="0" y="11">Reboot</tspan></text></g>
<g id="f-rn2" transform="translate(447.5 190.7)"><use href="#kr" class="k"/><text class="a">∇</text></g>
<g id="f-ri0" transform="translate(487.5 100.7)"><use href="#kr" class="k"/><text class="a">∇</text></g>
<g id="f-ctrlalt" transform="translate(487.5 140.7)"><use href="#kr" class="k"/><text class="d"><tspan x="0" y="-12">Ctrl</tspan><tspan x="0" y="0">+</tspan><tspan x="0" y="12">Alt</tspan></text></g>
<g id="f-ri2" transform="translate(487.5 180.7)"><use href="#kr" class="k"/><text class="a">∇</text></g>
<g id="f-rm0" transform="translate(527.5 90.7)"><use href="#kr" class="k"/><text class="a">∇</text></g>
<g id="f-rm1" transform="translate(527.5 130.7)"><use href="#kr" class="k"/></g>
<g id="f-rm2" transform="translate(527.5 170.7)"><use href="#kr" class="k"/><text class="a">∇</text></g>
<g id="f-rr0" transform="translate(575.5 100.3) rotate(5)"><use href="#kr" class="k"/><text class="a">∇</text></g>
<g id="f-rr1" transform="translate(572 140.1) rotate(5)"><use href="#kr" class="k"/><text class="a">∇</text></g>
<g id="f-rr2" transform="translate(568.5 180) rotate(5)"><use href="#kr" class="k"/><text class="a">∇</text></g>
<g id="f-rp0" transform="translate(628.5 122) rotate(15)"><use href="#kr" class="k"/><text class="a">∇</text></g>
<g id="f-rp1" transform="translate(618.1 160.6) rotate(15)"><use href="#kr" class="k"/><text class="a">∇</text></g>
<g id="f-rp2" transform="translate(607.8 199.3) rotate(15)"><use href="#kr" class="k"/><text class="a">∇</text></g>
<g id="f-rt" transform="translate(467.5 240.3) rotate(-15)"><use href="#kr" class="k"/><text class="a">∇</text></g>
</g>

<g id="layer-media" transform="translate(-2.6 2803.3)">
<g id="m-lp0" transform="translate(147.3 131.5) rotate(-15)"><use href="#kr" class="k"/><text class="a">∇</text></g>
<g id="m-lp1" transform="translate(157.6 170.1) rotate(-15)"><use href="#kr" class="k"/><text class="a">∇</text></g>
<g id="m-lp2" transform="translate(168 208.8) rotate(-15)"><use href="#kr" class="k"/><text class="a">∇</text></g>
<g id="m-lr0" transform="translate(199.5 100.3) rotate(-5)"><use href="#kr" class="k"/><text class="a">∇</text></g>
<g id="m-lr1" transform="translate(203 140.1) rotate(-5)"><use href="#kr" class="k"/><text class="a">∇</text></g>
<g id="m-lr2" transform="translate(206.5 180) rotate(-5)"><use href="#kr" class="k"/><text class="a">∇</text></g>
<g id="m-lm0" transform="translate(247.5 90.7)"><use href="#kr" class="k"/><text class="a">∇</text></g>
<g id="m-lm1" transform="translate(247.5 130.7)"><use href="#kr" class="k"/></g>
<g id="m-lm2" transform="translate(247.5 170.7)"><use href="#kr" class="k"/><text class="a">∇</text></g>
<g id="m-li0" transform="translate(287.5 100.7)"><use href="#kr" class="k"/><text class="a">∇</text></g>
<g id="m-li1" transform="translate(287.5 140.7)"><use href="#kr" class="k"/><text class="a">∇</text></g>
<g id="m-li2" transform="translate(287.5 180.7)"><use href="#kr" class="k"/><text class="a">∇</text></g>
<g id="m-ln0" transform="translate(327.5 110.7)"><use href="#kr" class="k"/><text class="a">∇</text></g>
<g id="m-ln1" transform="translate(327.5 150.7)"><use href="#kr" class="k"/><text class="a">∇</text></g>
<g id="m-ln2" transform="translate(327.5 190.7)"><use href="#kr" class="k"/><text class="a">∇</text></g>
<g id="m-lt" transform="translate(307.3 240.3) rotate(15)"><use href="#kr" class="k"/><text class="a">∇</text></g>
<g id="m-mute" transform="translate(447.5 110.7)"><use href="#kr" class="k"/><text class="c">Mute</text></g>
<g id="m-rn1" transform="translate(447.5 150.7)"><use href="#kr" class="k"/><text class="a">∇</text></g>
<g id="m-rn2" transform="translate(447.5 190.7)"><use href="#kr" class="k"/><text class="a">∇</text></g>
<g id="m-voldn" transform="translate(487.5 100.7)"><use href="#kr" class="k"/><text class="c"><tspan x="0" y="-7.2">Vol</tspan><tspan x="0" y="7.2">-</tspan></text></g>
<g id="m-play" transform="translate(487.5 140.7)"><use href="#kr" class="k"/><text class="c"><tspan x="0" y="-7.2">Play</tspan><tspan x="0" y="7.2">Pause</tspan></text></g>
<g id="m-ri2" transform="translate(487.5 180.7)"><use href="#kr" class="k"/><text class="a">∇</text></g>
<g id="m-volup" transform="translate(527.5 90.7)"><use href="#kr" class="k"/><text class="c"><tspan x="0" y="-7.2">Vol</tspan><tspan x="0" y="7.2">+</tspan></text></g>
<g id="m-prev" transform="translate(527.5 130.7)"><use href="#kr" class="k"/><text class="c">Prev</text></g>
<g id="m-rm2" transform="translate(527.5 170.7)"><use href="#kr" class="k"/><text class="a">∇</text></g>
<g id="m-bdec" transform="translate(575.5 100.3) rotate(5)"><use href="#kr" class="k"/><text class="x95"><tspan x="0" y="-5.7">Brighness</tspan><tspan x="0" y="5.7">Dec</tspan></text></g>
<g id="m-next" transform="translate(572 140.1) rotate(5)"><use href="#kr" class="k"/><text class="c">Next</text></g>
<g id="m-rr2" transform="translate(568.5 180) rotate(5)"><use href="#kr" class="k"/><text class="a">∇</text></g>
<g id="m-binc" transform="translate(628.5 122) rotate(15)"><use href="#kr" class="k"/><text class="x95"><tspan x="0" y="-5.7">Brightness</tspan><tspan x="0" y="5.7">Inc</tspan></text></g>
<g id="m-stop" transform="translate(618.1 160.6) rotate(15)"><use href="#kr" class="k"/><text class="c">Stop</text></g>
<g id="m-rp2" transform="translate(607.8 199.3) rotate(15)"><use href="#kr" class="k"/><text class="a">∇</text></g>
<g id="m-rt" transform="translate(467.5 240.3) rotate(-15)"><use href="#kr" class="k"/><text class="a">∇</text></g>
</g>

<g id="layer-keyboard" transform="translate(-7.7 3140)">
<g id="kb-reset" transform="translate(147.3 131.5) rotate(-15)"><use href="#kr" class="k"/><text class="c">Reset</text></g>
<g id="kb-lp1" transform="translate(157.6 170.1) rotate(-15)"><use href="#kr" class="k"/></g>
<g id="kb-lp2" transform="translate(168 208.8) rotate(-15)"><use href="#kr" class="k"/></g>
<g id="kb-boot" transform="translate(199.5 100.3) rotate(-5)"><use href="#kr" class="k"/><text class="e">Bootloader</text></g>
<g id="kb-lr1" transform="translate(203 140.1) rotate(-5)"><use href="#kr" class="k"/></g>
<g id="kb-lr2" transform="translate(206.5 180) rotate(-5)"><use href="#kr" class="k"/></g>
<g id="kb-lm0" transform="translate(247.5 90.7)"><use href="#kr" class="k"/></g>
<g id="kb-btprev" transform="translate(247.5 130.7)"><use href="#kr" class="k"/><text class="b"><tspan x="0" y="-8.4">Bt</tspan><tspan x="0" y="8.4">Prev</tspan></text></g>
<g id="kb-lm2" transform="translate(247.5 170.7)"><use href="#kr" class="k"/></g>
<g id="kb-li0" transform="translate(287.5 100.7)"><use href="#kr" class="k"/></g>
<g id="kb-btnext" transform="translate(287.5 140.7)"><use href="#kr" class="k"/><text class="b"><tspan x="0" y="-8.4">Bt</tspan><tspan x="0" y="8.4">Next</tspan></text></g>
<g id="kb-li2" transform="translate(287.5 180.7)"><use href="#kr" class="k"/></g>
<g id="kb-usb" transform="translate(327.5 110.7)"><use href="#kr" class="k"/><text class="d">USB</text></g>
<g id="kb-btclear1" transform="translate(327.5 150.7)"><use href="#kr" class="k"/><text class="b"><tspan x="0" y="-8.4">Bt</tspan><tspan x="0" y="8.4">Clear</tspan></text></g>
<g id="kb-btclear2" transform="translate(327.5 190.7)"><use href="#kr" class="k"/><text class="b"><tspan x="0" y="-8.4">Bt</tspan><tspan x="0" y="8.4">Clear</tspan></text></g>
<g id="kb-lt" transform="translate(307.3 240.3) rotate(15)"><use href="#kr" class="k"/></g>
<g id="kb-ble" transform="translate(447.5 110.7)"><use href="#kr" class="k"/><text class="d">BLE</text></g>
<g id="kb-qwerty" transform="translate(447.5 150.7)"><use href="#kr" class="k"/><text class="e">QWERTY</text></g>
<g id="kb-rn2" transform="translate(447.5 190.7)"><use href="#kr" class="k"/></g>
<g id="kb-ri0" transform="translate(487.5 100.7)"><use href="#kr" class="k"/></g>
<g id="kb-bt0" transform="translate(487.5 140.7)"><use href="#kr" class="k"/><text class="b"><tspan x="0" y="-8.4">BT</tspan><tspan x="0" y="8.4">0</tspan></text></g>
<g id="kb-ri2" transform="translate(487.5 180.7)"><use href="#kr" class="k"/></g>
<g id="kb-rm0" transform="translate(527.5 90.7)"><use href="#kr" class="k"/></g>
<g id="kb-bt1" transform="translate(527.5 130.7)"><use href="#kr" class="k"/><text class="b"><tspan x="0" y="-8.4">BT</tspan><tspan x="0" y="8.4">1</tspan></text></g>
<g id="kb-rm2" transform="translate(527.5 170.7)"><use href="#kr" class="k"/></g>
<g id="kb-boot2" transform="translate(575.5 100.3) rotate(5)"><use href="#kr" class="k"/><text class="e">Bootloader</text></g>
<g id="kb-bt2" transform="translate(572 140.1) rotate(5)"><use href="#kr" class="k"/><text class="b"><tspan x="0" y="-8.4">BT</tspan><tspan x="0" y="8.4">2</tspan></text></g>
<g id="kb-rr2" transform="translate(568.5 180) rotate(5)"><use href="#kr" class="k"/></g>
<g id="kb-reset2" transform="translate(628.5 122) rotate(15)"><use href="#kr" class="k"/><text class="c">Reset</text></g>
<g id="kb-bt3" transform="translate(618.1 160.6) rotate(15)"><use href="#kr" class="k"/><text class="b"><tspan x="0" y="-8.4">BT</tspan><tspan x="0" y="8.4">3</tspan></text></g>
<g id="kb-rp2" transform="translate(607.8 199.3) rotate(15)"><use href="#kr" class="k"/></g>
<g id="kb-rt" transform="translate(467.5 240.3) rotate(-15)"><use href="#kr" class="k"/></g>
</g>

<g id="layer-qwerty" transform="translate(-7.7 3510)">
<g id="q-q" transform="translate(147.3 131.5) rotate(-15)"><use href="#kr" class="k"/><text class="a">Q</text></g>
<g id="q-a" transform="translate(157.6 170.1) rotate(-15)"><use href="#kr" class="k"/><text class="a">A</text></g>
<g id="q-z" transform="translate(168 208.8) rotate(-15)"><use href="#kr" class="k"/><text class="a">Z</text></g>
<g id="q-w" transform="translate(199.5 100.3) rotate(-5)"><use href="#kr" class="k"/><text class="a">W</text></g>
<g id="q-s" transform="translate(203 140.1) rotate(-5)"><use href="#kr" class="k"/><text class="a">S</text></g>
<g id="q-x" transform="translate(206.5 180) rotate(-5)"><use href="#kr" class="k"/><text class="a">X</text></g>
<g id="q-e" transform="translate(247.5 90.7)"><use href="#kr" class="k"/><text class="a">E</text></g>
<g id="q-d" transform="translate(247.5 130.7)"><use href="#kr" class="k"/><text class="a">D</text></g>
<g id="q-c" transform="translate(247.5 170.7)"><use href="#kr" class="k"/><text class="a">C</text></g>
<g id="q-r" transform="translate(287.5 100.7)"><use href="#kr" class="k"/><text class="a">R</text></g>
<g id="q-f" transform="translate(287.5 140.7)"><use href="#kr" class="k"/><text class="a">F</text></g>
<g id="q-v" transform="translate(287.5 180.7)"><use href="#kr" class="k"/><text class="a">V</text></g>
<g id="q-t" transform="translate(327.5 110.7)"><use href="#kr" class="k"/><text class="a">T</text></g>
<g id="q-g" transform="translate(327.5 150.7)"><use href="#kr" class="k"/><text class="a">G</text></g>
<g id="q-b" transform="translate(327.5 190.7)"><use href="#kr" class="k"/><text class="a">B</text></g>
<g id="q-space" transform="translate(307.3 240.3) rotate(15)"><use href="#kr" class="k"/><text class="sp">Space</text></g>
<g id="q-y" transform="translate(447.5 110.7)"><use href="#kr" class="k"/><text class="a">Y</text></g>
<g id="q-h" transform="translate(447.5 150.7)"><use href="#kr" class="k"/><text class="a">H</text></g>
<g id="q-m" transform="translate(447.5 190.7)"><use href="#kr" class="k"/><text class="a">M</text></g>
<g id="q-u" transform="translate(487.5 100.7)"><use href="#kr" class="k"/><text class="a">U</text></g>
<g id="q-j" transform="translate(487.5 140.7)"><use href="#kr" class="k"/><text class="a">J</text></g>
<g id="q-n" transform="translate(487.5 180.7)"><use href="#kr" class="k"/><text class="a">N</text></g>
<g id="q-i" transform="translate(527.5 90.7)"><use href="#kr" class="k"/><text class="a">I</text></g>
<g id="q-k" transform="translate(527.5 130.7)"><use href="#kr" class="k"/><text class="a">K</text></g>
<g id="q-comma" transform="translate(527.5 170.7)"><use href="#kr" class="k"/><text class="a">,</text></g>
<g id="q-o" transform="translate(575.5 100.3) rotate(5)"><use href="#kr" class="k"/><text class="a">O</text></g>
<g id="q-l" transform="translate(572 140.1) rotate(5)"><use href="#kr" class="k"/><text class="a">L</text></g>
<g id="q-dot" transform="translate(568.5 180) rotate(5)"><use href="#kr" class="k"/><text class="a">.</text></g>
<g id="q-p" transform="translate(628.5 122) rotate(15)"><use href="#kr" class="k"/><text class="a">P</text></g>
<g id="q-bs" transform="translate(618.1 160.6) rotate(15)"><use href="#kr" class="k"/><text class="g">⌫</text></g>
<g id="q-minus" transform="translate(607.8 199.3) rotate(15)"><use href="#kr" class="k"/><text class="b"><tspan x="0" y="-8.4">-</tspan><tspan x="0" y="8.4">Shift</tspan></text></g>
<g id="q-enter" transform="translate(467.5 240.3) rotate(-15)"><use href="#kr" class="k"/><text class="a">↵</text></g>
</g>
</svg>
